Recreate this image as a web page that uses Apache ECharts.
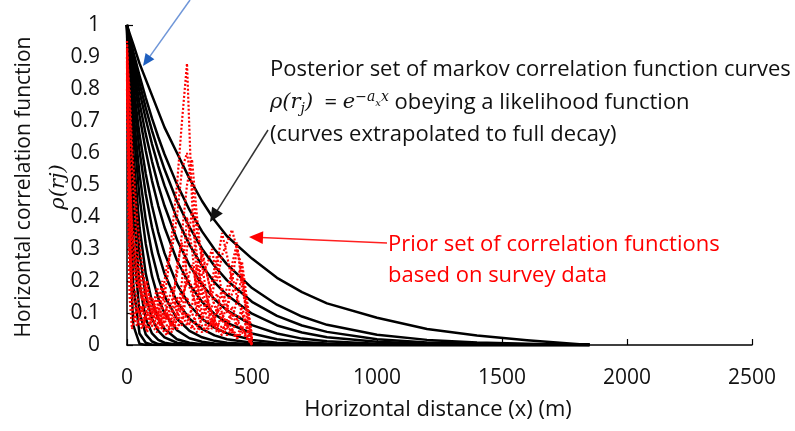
<!DOCTYPE html>
<html>
<head>
<meta charset="utf-8">
<script src="https://cdn.jsdelivr.net/npm/echarts@6/dist/echarts.min.js"></script>
<style>html,body{margin:0;padding:0;background:#fff}#c{width:795px;height:431px}</style>
</head>
<body>
<div id="c"></div>
<script>
// ---- axis ticks ----
const xTicks = [0, 500, 1000, 1500, 2000, 2500];
const yTicks = [0, 0.1, 0.2, 0.3, 0.4, 0.5, 0.6, 0.7, 0.8, 0.9, 1];

// ---- posterior (black) curves: distance samples and values ----
const xBlack = [0, 10, 25, 50, 75, 100, 125, 150, 200, 250, 300, 350, 400, 500, 600, 700, 800, 1000, 1200, 1400, 1600, 1850];
const post1  = [1, .975, .94, .88, .83, .78, .73, .68, .60, .52, .45, .39, .34, .27, .21, .165, .13, .085, .05, .03, .015, 0];
const post2  = [1, .966, .917, .842, .772, .708, .650, .596, .502, .422, .355, .299, .252, .178, .126, .089, .063, .032, .016, .008, .004, 0];
const post3  = [1, .961, .905, .819, .741, .670, .607, .549, .449, .368, .301, .247, .202, .135, .091, .061, .041, .018, .008, .004, .002, 0];
const post4  = [1, .955, .890, .792, .706, .628, .559, .498, .395, .313, .248, .196, .156, .098, .061, .039, .024, .010, .004, .0015, 0, 0];
const post5  = [1, .946, .870, .757, .659, .574, .499, .435, .329, .249, .189, .143, .108, .062, .036, .020, .012, .004, .001, 0, 0, 0];
const post6  = [1, .936, .846, .717, .607, .513, .435, .368, .264, .189, .135, .097, .069, .036, .018, .009, .005, .001, 0, 0, 0, 0];
const post7  = [1, .920, .812, .659, .535, .435, .353, .287, .189, .125, .082, .054, .036, .016, .007, .003, .001, 0, 0, 0, 0, 0];
const post8  = [1, .905, .779, .607, .472, .368, .287, .223, .135, .082, .050, .030, .018, .007, .002, .001, 0, 0, 0, 0, 0, 0];
const post9  = [1, .882, .732, .535, .392, .287, .210, .153, .082, .044, .024, .013, .007, .002, 0, 0, 0, 0, 0, 0, 0, 0];
const post10 = [1, .857, .681, .463, .316, .215, .146, .099, .046, .021, .010, .005, .002, 0, 0, 0, 0, 0, 0, 0, 0, 0];
const post11 = [1, .819, .607, .368, .223, .135, .082, .050, .018, .007, .002, 0, 0, 0, 0, 0, 0, 0, 0, 0, 0, 0];
const post12 = [1, .779, .535, .287, .153, .082, .044, .024, .007, .002, 0, 0, 0, 0, 0, 0, 0, 0, 0, 0, 0, 0];
const post13 = [1, .717, .435, .189, .082, .036, .016, .007, .001, 0, 0, 0, 0, 0, 0, 0, 0, 0, 0, 0, 0, 0];
const post14 = [1, .635, .321, .103, .033, .011, .003, .001, 0, 0, 0, 0, 0, 0, 0, 0, 0, 0, 0, 0, 0, 0];
const post15 = [1, .513, .189, .036, .007, .001, 0, 0, 0, 0, 0, 0, 0, 0, 0, 0, 0, 0, 0, 0, 0, 0];
const post16 = [1, .329, .062, .004, 0, 0, 0, 0, 0, 0, 0, 0, 0, 0, 0, 0, 0, 0, 0, 0, 0, 0];

// ---- prior (red dotted) survey correlograms ----
const xRed = [0, 10, 20, 40, 60, 80, 100, 120, 140, 160, 180, 200, 220, 240, 260, 280, 300, 320, 340, 360, 380, 400, 420, 440, 460, 480, 500];
const prior1  = [.93, .30, .15, .10, .12, .08, .10, .06, .12, .20, .35, .50, .70, .88, .45, .20, .10, .05, .08, .04, .06, .03, .05, .02, .04, .02, .01];
const prior2  = [.90, .25, .12, .08, .05, .10, .06, .04, .08, .10, .06, .12, .15, .20, .25, .18, .22, .25, .30, .20, .28, .32, .36, .30, .22, .12, .02];
const prior3  = [.88, .40, .20, .15, .10, .18, .12, .08, .15, .25, .30, .40, .55, .60, .50, .35, .28, .22, .15, .10, .12, .18, .22, .15, .10, .05, 0];
const prior4  = [.85, .35, .18, .12, .08, .05, .10, .12, .07, .04, .09, .15, .10, .06, .12, .25, .18, .12, .20, .28, .15, .10, .25, .32, .18, .10, .02];
const prior5  = [.92, .50, .30, .20, .15, .12, .08, .05, .10, .06, .04, .08, .20, .40, .30, .15, .08, .12, .06, .10, .18, .12, .08, .14, .22, .08, .01];
const prior6  = [.80, .20, .10, .06, .12, .04, .08, .10, .05, .03, .07, .05, .08, .10, .06, .04, .09, .14, .10, .06, .08, .12, .16, .20, .26, .14, .03];
const prior7  = [.95, .60, .35, .22, .14, .20, .10, .15, .08, .12, .18, .10, .06, .30, .42, .28, .16, .08, .05, .12, .08, .05, .10, .06, .12, .06, 0];
const prior8  = [.90, .15, .05, .12, .06, .10, .14, .08, .20, .15, .10, .25, .32, .22, .18, .10, .20, .15, .08, .05, .10, .06, .04, .08, .05, .03, 0];
const prior9  = [.94, .75, .55, .30, .18, .12, .15, .10, .06, .09, .05, .08, .12, .08, .05, .10, .06, .04, .08, .05, .03, .06, .04, .02, .05, .03, 0];
const prior10 = [.91, .80, .62, .40, .25, .15, .10, .18, .12, .08, .14, .22, .35, .50, .58, .40, .25, .15, .10, .06, .04, .08, .05, .03, .06, .02, 0];
const prior11 = [.87, .45, .25, .18, .22, .15, .08, .12, .18, .10, .06, .10, .14, .20, .16, .12, .30, .22, .15, .25, .35, .28, .20, .30, .24, .12, .02];
const prior12 = [.83, .55, .38, .25, .16, .10, .06, .09, .05, .12, .08, .05, .09, .15, .10, .06, .04, .07, .12, .16, .10, .06, .12, .08, .10, .05, 0];

const posteriorSets = [post1, post2, post3, post4, post5, post6, post7, post8, post9, post10, post11, post12, post13, post14, post15, post16];
const priorSets = [prior1, prior2, prior3, prior4, prior5, prior6, prior7, prior8, prior9, prior10, prior11, prior12];

const FONT = '"Open Sans"';
const chart = echarts.init(document.getElementById('c'), null, {renderer: 'canvas'});

const series = [];
posteriorSets.forEach((arr, k) => {
  series.push({
    type: 'line', name: 'post' + (k + 1), silent: true, showSymbol: false, symbol: 'none',
    smooth: false, z: 3,
    lineStyle: {color: '#000', width: 2.5, join: 'round'},
    data: xBlack.map((x, i) => [x, arr[i]])
  });
});
priorSets.forEach((arr, k) => {
  series.push({
    type: 'line', name: 'prior' + (k + 1), silent: true, showSymbol: false, symbol: 'none',
    z: 4,
    lineStyle: {color: '#ff0000', width: 2.2, type: [2, 2]},
    data: xRed.map((x, i) => [x, arr[i]])
  });
});

function arrow(x1, y1, x2, y2, stroke, fill, w, head) {
  const dx = x2 - x1, dy = y2 - y1, len = Math.sqrt(dx * dx + dy * dy);
  const ux = dx / len, uy = dy / len, px = -uy, py = ux;
  const bx = x2 - ux * head, by = y2 - uy * head;
  return [
    {type: 'line', silent: true, z: 10, shape: {x1: x1, y1: y1, x2: bx + ux * 2, y2: by + uy * 2}, style: {stroke: stroke, lineWidth: w}},
    {type: 'polygon', silent: true, z: 10, shape: {points: [[x2, y2], [bx + px * head * 0.45, by + py * head * 0.45], [bx - px * head * 0.45, by - py * head * 0.45]]}, style: {fill: fill}}
  ];
}

const txt = (x, y, s, color, size, align) => ({
  type: 'text', silent: true, z: 10, x: x, y: y,
  style: {text: s, fill: color, font: size + 'px ' + FONT, textAlign: align || 'left', textVerticalAlign: 'middle'}
});

const graphics = [].concat(
  arrow(190, 0, 143, 66, '#6f96d8', '#1f5fbf', 1.5, 12),
  arrow(268, 130, 210, 222, '#333', '#111', 1.5, 14),
  arrow(387, 243, 249, 237, '#ff2020', '#ff0000', 1.5, 14),
  [
    txt(270, 70, 'Posterior set of markov correlation function curves', '#111', 22),
    {
      type: 'text', silent: true, z: 10, x: 270, y: 103,
      style: {
        text: '{i|ρ(r}{sub|j}{i|)}{n|  = }{i|e}{sup|−a}{ssub|x}{sup|x}{n| obeying a likelihood function}',
        textVerticalAlign: 'middle', fill: '#111',
        rich: {
          i: {font: 'italic 21px "DejaVu Serif"', fill: '#111', lineHeight: 30, verticalAlign: 'middle'},
          n: {font: '22px ' + FONT, fill: '#111', lineHeight: 30, verticalAlign: 'middle'},
          sub: {font: 'italic 14px "DejaVu Serif"', fill: '#111', lineHeight: 30, verticalAlign: 'bottom', padding: [0, 0, 2, 0]},
          sup: {font: 'italic 14px "DejaVu Serif"', fill: '#111', lineHeight: 30, verticalAlign: 'top', padding: [2, 0, 0, 0]},
          ssub: {font: 'italic 10px "DejaVu Serif"', fill: '#111', lineHeight: 30, verticalAlign: 'top', padding: [10, 0, 0, 0]}
        }
      }
    },
    txt(270, 135, '(curves extrapolated to full decay)', '#111', 22),
    txt(388, 245, 'Prior set of correlation functions', '#ff0000', 22),
    txt(388, 276, 'based on survey data', '#ff0000', 22),
    txt(438, 410, 'Horizontal distance (x) (m)', '#111', 22, 'center'),
    {type: 'text', silent: true, z: 10, x: 24, y: 187, rotation: Math.PI / 2,
      style: {text: 'Horizontal correlation function', fill: '#111', font: '21px ' + FONT, textAlign: 'center', textVerticalAlign: 'middle'}},
    {type: 'text', silent: true, z: 10, x: 59, y: 187, rotation: Math.PI / 2,
      style: {text: 'ρ(rj)', fill: '#111', font: 'italic 21px "DejaVu Serif"', textAlign: 'center', textVerticalAlign: 'middle'}}
  ]
);

chart.setOption({
  animation: false,
  backgroundColor: '#fff',
  grid: {left: 127, right: 43, top: 25, bottom: 86, containLabel: false},
  xAxis: {
    type: 'value', min: xTicks[0], max: xTicks[xTicks.length - 1], interval: 500,
    splitLine: {show: false},
    axisLine: {show: true, onZero: false, lineStyle: {color: '#000', width: 1.5}},
    axisTick: {show: true, inside: true, length: 6, lineStyle: {color: '#000', width: 1.2}},
    axisLabel: {color: '#111', fontSize: 21, fontFamily: 'Open Sans', margin: 23, formatter: v => String(v)}
  },
  yAxis: {
    type: 'value', min: yTicks[0], max: yTicks[yTicks.length - 1], interval: 0.1,
    splitLine: {show: false},
    axisLine: {show: true, lineStyle: {color: '#000', width: 1.5}},
    axisTick: {show: true, inside: true, length: 6, lineStyle: {color: '#000', width: 1.2}},
    axisLabel: {color: '#111', fontSize: 21, fontFamily: 'Open Sans', margin: 27, formatter: v => String(Math.round(v * 10) / 10)}
  },
  series: series,
  graphic: graphics
});
</script>
</body>
</html>
